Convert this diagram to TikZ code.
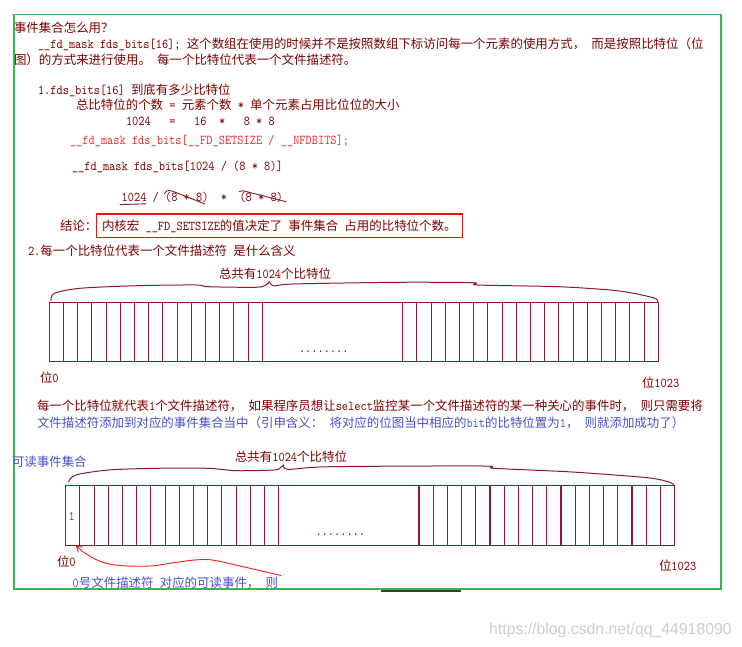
\documentclass[tikz,border=0pt]{standalone}
\usepackage{fontspec}
\setmainfont{Noto Sans CJK SC}
\newfontfamily\wmfont{Liberation Sans}
\newfontfamily\codefont{lmmono10-regular.otf}[FakeStretch=0.875]
\usetikzlibrary{arrows.meta}
\definecolor{txtred}{RGB}{128,0,0}
\definecolor{codered}{RGB}{232,48,48}
\definecolor{txtblue}{RGB}{70,80,205}
\definecolor{barred}{RGB}{139,26,46}
\definecolor{framegreen}{RGB}{60,180,80}
\definecolor{darkmark}{RGB}{40,70,50}
\definecolor{boxred}{RGB}{230,20,20}
\definecolor{arrred}{RGB}{232,30,30}
\definecolor{wmgray}{RGB}{205,205,205}
\newcommand\mylat[1]{{\fontsize{13.5pt}{14pt}\codefont #1}}
\newcommand\hsp{\hspace{6.22pt}}
\begin{document}
\begin{tikzpicture}[x=1pt,y=-1pt,
  txt/.style={anchor=base west, inner sep=0pt, outer sep=0pt,
    font=\fontsize{12.45pt}{14pt}\selectfont, text=txtred},
  bluetxt/.style={txt, text=txtblue},
  codetxt/.style={txt, text=codered},
  barline/.style={draw=barred, line width=1.2pt},
  cellline/.style={draw=barred, line width=1.1pt},
  handline/.style={draw=barred, line width=0.9pt, line cap=round},
  bracestyle/.style={draw=barred, line width=1pt, line cap=round, line join=round},
  arrowline/.style={draw=arrred, line width=0.9pt, line cap=round},
  conclbox/.style={draw=boxred, line width=1.3pt},
  frame/.style={draw=framegreen, line width=1.5pt}]
\useasboundingbox (0,0) rectangle (742,647);
\fill[white] (0,0) rectangle (742,647);

% green frame
\draw[frame] (14,14.7) rectangle (721,589);
\fill[darkmark] (381,589.5) rectangle (461,591.5);

% top paragraph
\node[txt] (t1) at (14,32.5) {事件集合怎么用？};
\node[txt] (t2) at (38,48.5) {\mylat{\_\_fd\_mask fds\_bits[16];}\hsp 这个数组在使用的时候并不是按照数组下标访问每一个元素的使用方式，\hsp 而是按照比特位（位};
\node[txt] (t3) at (14,64.5) {图）的方式来进行使用。\hsp 每一个比特位代表一个文件描述符。};

% section 1
\node[txt] (t4) at (38,94.5) {\mylat{1.fds\_bits[16]}\hsp 到底有多少比特位};
\node[txt] (t5) at (76,109.5) {总比特位的个数\hsp\mylat{=}\hsp 元素个数\hsp\mylat{*}\hsp 单个元素占用比位位的大小};
\node[txt] (t5b) at (126,125.5) {\mylat{1024\ \ \ =\ \ \ 16\ \ *\ \ \ 8 * 8}};
\node[codetxt] (t6) at (70,144.5) {\mylat{\_\_fd\_mask fds\_bits[\_\_FD\_SETSIZE / \_\_NFDBITS];}};
\node[txt] (t7) at (72,170.5) {\mylat{\_\_fd\_mask fds\_bits[1024 / (8 * 8)]}};
\node[txt] (t8) at (121.7,201.5) {\mylat{1024 / (8 * 8)\ \ *\ \ (8 * 8)}};
\draw[handline] (120,204.6) -- (146,203.8);
\draw[handline] (164.5,193.5) .. controls (165,190.5) and (168,190.2) .. (172,191) -- (205,204);
\draw[handline] (239.3,191.7) .. controls (241,190.5) and (243,190.5) .. (246,191.5) -- (286,201.7);

% conclusion
\node[txt] (t9) at (60,231) {结论：};
\draw[conclbox] (96.7,214) rectangle (462.7,237.3);
\node[txt] (t10) at (102,231) {内核宏\hsp\mylat{\_\_FD\_SETSIZE}的值决定了\hsp 事件集合\hsp 占用的比特位个数。};

% section 2
\node[txt] (t11) at (28,256) {\mylat{2.}每一个比特位代表一个文件描述符\hsp 是什么含义};

% bar 1
\node[txt] (b1lab) at (219,278.5) {总共有\mylat{1024}个比特位};
\draw[bracestyle] plot[smooth, tension=0.5] coordinates {(51,300.5) (54.4,293.3) (80,288.3) (137,285.7) (196,285) (208,286.7) (255,287.3) (265,285.5) (269.5,281.7)};
\draw[bracestyle] plot[smooth, tension=0.5] coordinates {(269.5,281.7) (274,286) (293,284) (397,282.3) (473,282.7) (477.5,285) (558,286.7) (610,290) (633.6,293.3) (655,298.3) (657.5,301.7)};
\draw[barline] (49.3,302.3) rectangle (658.3,361.8);
\foreach \k in {1,...,15} \draw[cellline] ({49.3+14.2*\k},302.3) -- ++(0,59.5);
\foreach \k in {0,...,17} \draw[cellline] ({402.7+14.2*\k},302.3) -- ++(0,59.5);
\node[txt] (d1) at (299,352) {\mylat{........}};
\node[txt] (p0a) at (40,382.5) {位\mylat{0}};
\node[txt] (p1a) at (642,387.5) {位\mylat{1023}};

% explanation
\node[txt] (t12) at (37,410.5) {每一个比特位就代表\mylat{1}个文件描述符，\hsp 如果程序员想让\mylat{select}监控某一个文件描述符的某一种关心的事件时，\hsp 则只需要将};
\node[bluetxt] (t13) at (37,427) {文件描述符添加到对应的事件集合当中（引申含义：\hsp 将对应的位图当中相应的\mylat{bit}的比特位置为\mylat{1}，\hsp 则就添加成功了）};

% bar 2
\node[bluetxt] (t14) at (12,466) {可读事件集合};
\node[txt] (b2lab) at (235,461) {总共有\mylat{1024}个比特位};
\draw[bracestyle] plot[smooth, tension=0.5] coordinates {(68.6,482) (75.7,475) (108.7,470) (156,468.3) (208,468.3) (236,470.7) (274,470) (280,468) (283.7,465)};
\draw[bracestyle] plot[smooth, tension=0.5] coordinates {(283.7,465) (288.4,469.3) (331,466.7) (482,466) (494,468.3) (567,471.7) (614.7,475) (652.5,478.3) (671,482.7) (673.8,485.5)};
\draw[barline] (65.7,485.7) rectangle (674.3,545.2);
\foreach \k in {1,...,15} \draw[cellline] ({65.7+14.2*\k},485.7) -- ++(0,59.5);
\foreach \k in {0,...,17} \draw[cellline] ({419.0+14.2*\k},485.7) -- ++(0,59.5);
\node[bluetxt, anchor=center] (one) at (71.8,516.7) {\mylat{1}};
\node[txt] (d2) at (315.5,535) {\mylat{........}};
\node[txt] (p0b) at (57,566) {位\mylat{0}};
\node[txt] (p1b) at (659,570.5) {位\mylat{1023}};
\node[bluetxt] (t15) at (72.7,587) {\mylat{0}号文件描述符\hsp 对应的可读事件，\hsp 则};

% red arrow
\coordinate (arrtip) at (76,546);
\coordinate (arrtail) at (281,575.5);
\draw[arrowline, {Straight Barb[length=5pt,width=7pt]}-] plot[smooth, tension=0.6] coordinates {(arrtip) (88,555) (102,562) (120,565.5) (150,566) (175,562.5) (195,560) (212,560) (240,566) (arrtail)};

% watermark
\node[anchor=base west, inner sep=0pt, text=wmgray, font=\wmfont\fontsize{15.8pt}{18pt}\selectfont] (wm) at (489,634) {https://blog.csdn.net/qq\_44918090};
\end{tikzpicture}
\end{document}
